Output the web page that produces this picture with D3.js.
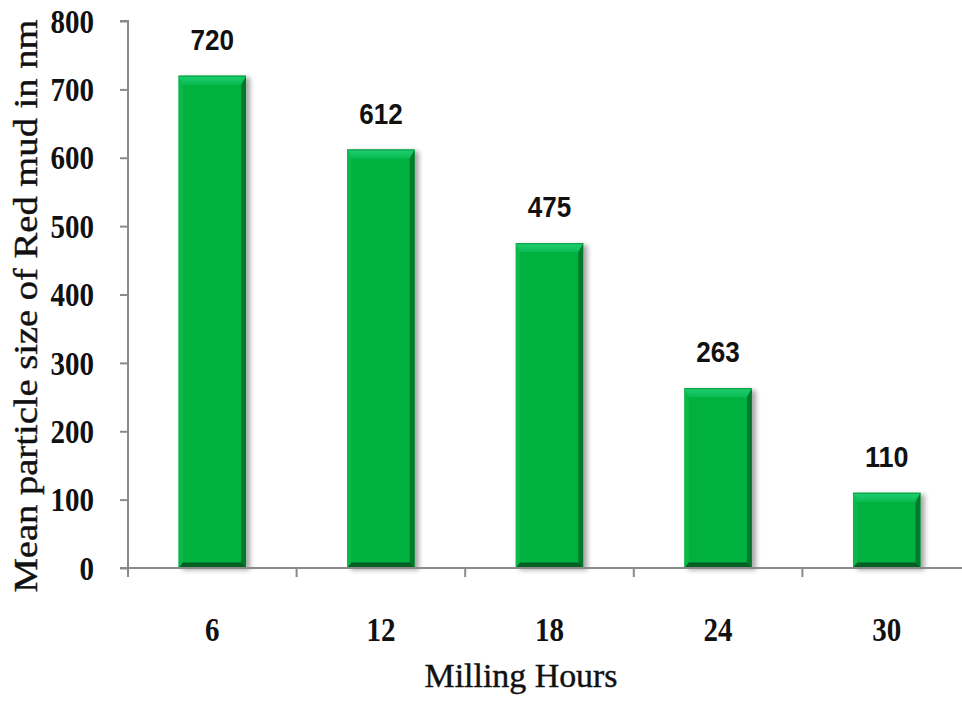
<!DOCTYPE html>
<html>
<head>
<meta charset="utf-8">
<script src="https://cdn.jsdelivr.net/npm/d3@7"></script>
<style>
  html, body { margin: 0; padding: 0; background: #fff; }
  svg { display: block; }
</style>
</head>
<body>
<svg id="chart" width="962" height="702"></svg>
<script>
// Mean particle size of red mud after milling
const hours = ["6", "12", "18", "24", "30"];
const sizes = [720, 612, 475, 263, 110];
const yTicks = [0, 100, 200, 300, 400, 500, 600, 700, 800];

const svg = d3.select("#chart");
const plot = { left: 128, right: 971, top: 21, bottom: 568 };

const x = d3.scaleBand().domain(hours).range([plot.left, plot.right]).paddingInner(0).paddingOuter(0);
const y = d3.scaleLinear().domain([0, 800]).range([plot.bottom, plot.top]);
const barW = x.bandwidth() * 0.4;

const serif = "'Liberation Serif', 'Times New Roman', serif";
const sans = "'Liberation Sans', Arial, sans-serif";
const digitW = 14.5; // condensed digit advance used for numeric labels

const defs = svg.append("defs");
const shadow = defs.append("filter").attr("id", "shadow").attr("x", "-20%").attr("y", "-20%").attr("width", "140%").attr("height", "140%");
shadow.append("feGaussianBlur").attr("in", "SourceAlpha").attr("stdDeviation", 2.5).attr("result", "b");
shadow.append("feOffset").attr("in", "b").attr("dx", 4).attr("dy", 2).attr("result", "o");
shadow.append("feComponentTransfer").attr("in", "o").attr("result", "s")
  .append("feFuncA").attr("type", "linear").attr("slope", 0.35);
const m = shadow.append("feMerge");
m.append("feMergeNode").attr("in", "s");
m.append("feMergeNode").attr("in", "SourceGraphic");

const topGrad = defs.append("linearGradient").attr("id", "topGrad").attr("x1", 0).attr("y1", 0).attr("x2", 0).attr("y2", 1);
topGrad.append("stop").attr("offset", "0%").attr("stop-color", "#1fcf72");
topGrad.append("stop").attr("offset", "100%").attr("stop-color", "#0abb52");

// Bars with a bevelled edge
const bevel = 7;
const rows = hours.map((h, i) => ({ h, v: sizes[i] }));
const bars = svg.append("g").selectAll("g").data(rows).join("g")
  .attr("filter", "url(#shadow)");

bars.each(function(d) {
  const g = d3.select(this);
  const x0 = x(d.h) + (x.bandwidth() - barW) / 2, x1 = x0 + barW;
  const y0 = y(d.v), y1 = y(0);
  const b = bevel;
  g.append("rect").attr("x", x0).attr("y", y0).attr("width", barW).attr("height", y1 - y0).attr("fill", "#00b140");
  g.append("polygon").attr("points", [[x0, y0], [x0 + b * 0.6, y0 + b], [x0 + b * 0.6, y1 - b * 0.6], [x0, y1]].join(" "))
    .attr("fill", "#0fb84c");
  g.append("polygon").attr("points", [[x1, y0], [x1 - b * 0.7, y0 + b], [x1 - b * 0.7, y1 - b * 0.6], [x1, y1]].join(" "))
    .attr("fill", "#007a2c");
  g.append("polygon").attr("points", [[x0, y1], [x0 + b * 0.6, y1 - b * 0.8], [x1 - b * 0.7, y1 - b * 0.8], [x1, y1]].join(" "))
    .attr("fill", "#005e20");
  g.append("polygon").attr("points", [[x0, y0], [x1, y0], [x1 - b * 0.7, y0 + b + 2], [x0 + b * 0.6, y0 + b + 2]].join(" "))
    .attr("fill", "url(#topGrad)");
  g.append("line").attr("x1", x0).attr("x2", x1).attr("y1", y0 + 0.5).attr("y2", y0 + 0.5)
    .attr("stroke", "#0c9a45").attr("stroke-width", 1);
});

// Value labels
svg.append("g").selectAll("text").data(rows).join("text")
  .attr("x", d => x(d.h) + x.bandwidth() / 2)
  .attr("y", d => y(d.v) - 26)
  .attr("text-anchor", "middle")
  .attr("font-family", sans)
  .attr("font-weight", "bold")
  .attr("font-size", 29)
  .attr("fill", "#111")
  .attr("textLength", d => String(d.v).length * digitW)
  .attr("lengthAdjust", "spacingAndGlyphs")
  .text(d => d.v);

// Y axis
const yAxis = svg.append("g").attr("transform", `translate(${plot.left},0)`)
  .call(d3.axisLeft(y).tickValues(yTicks).tickSize(8).tickPadding(26).tickFormat(d3.format("d")));
yAxis.select(".domain").attr("stroke", "#8a8a8a").attr("stroke-width", 2).attr("d", `M-8,${plot.top}H0V${plot.bottom}`);
yAxis.selectAll(".tick line").attr("stroke", "#8a8a8a").attr("stroke-width", 2);
yAxis.selectAll(".tick text")
  .attr("font-family", serif)
  .attr("font-weight", "bold").attr("font-size", 33).attr("fill", "#111")
  .attr("dy", "0.34em")
  .attr("textLength", d => String(d).length * digitW)
  .attr("lengthAdjust", "spacingAndGlyphs");

// X axis
const bounds = hours.map(h => x(h)).concat([plot.right]);
const xAxis = svg.append("g");
xAxis.append("line").attr("x1", plot.left - 8).attr("x2", plot.right).attr("y1", plot.bottom).attr("y2", plot.bottom)
  .attr("stroke", "#8a8a8a").attr("stroke-width", 2);
xAxis.selectAll("line.tk").data(bounds).join("line").attr("class", "tk")
  .attr("x1", d => d).attr("x2", d => d).attr("y1", plot.bottom).attr("y2", plot.bottom + 9)
  .attr("stroke", "#8a8a8a").attr("stroke-width", 2);
xAxis.selectAll("text").data(hours).join("text")
  .attr("x", d => x(d) + x.bandwidth() / 2)
  .attr("y", 641)
  .attr("text-anchor", "middle")
  .attr("font-family", serif)
  .attr("font-weight", "bold").attr("font-size", 33).attr("fill", "#111")
  .attr("textLength", d => d.length * digitW)
  .attr("lengthAdjust", "spacingAndGlyphs")
  .text(d => d);

// Axis titles
svg.append("text")
  .attr("x", 521).attr("y", 687)
  .attr("text-anchor", "middle")
  .attr("font-family", serif)
  .attr("font-size", 33).attr("fill", "#111")
  .attr("stroke", "#111").attr("stroke-width", 0.4)
  .attr("textLength", 193).attr("lengthAdjust", "spacingAndGlyphs")
  .text("Milling Hours");

svg.append("text")
  .attr("transform", "translate(37,306) rotate(-90)")
  .attr("text-anchor", "middle")
  .attr("font-family", serif)
  .attr("font-size", 33).attr("fill", "#111")
  .attr("stroke", "#111").attr("stroke-width", 0.4)
  .attr("textLength", 573).attr("lengthAdjust", "spacingAndGlyphs")
  .text("Mean particle size of Red mud in nm");
</script>
</body>
</html>
